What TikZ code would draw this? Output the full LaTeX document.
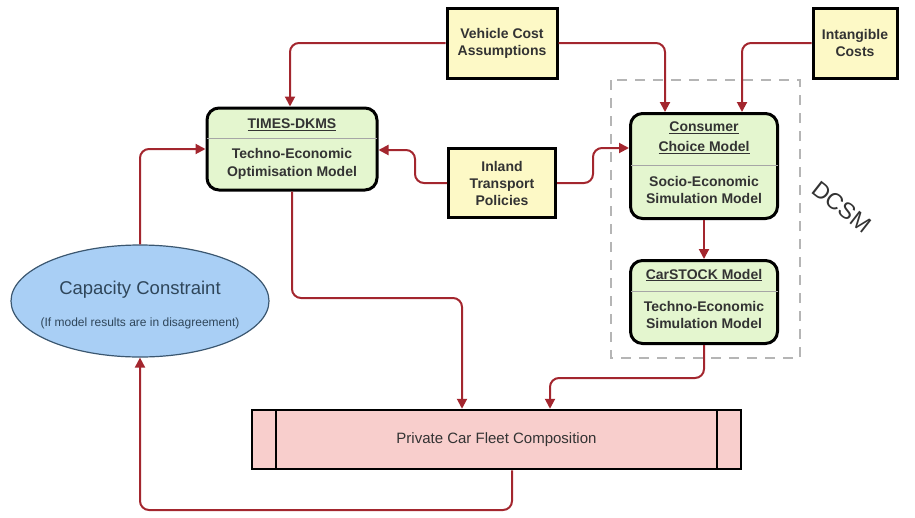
\documentclass[tikz,border=0pt]{standalone}
\usepackage{fontspec}
\setmainfont{Liberation Sans}
\usetikzlibrary{arrows.meta,shapes.geometric}
\definecolor{connred}{HTML}{A3262E}
\definecolor{gfill}{HTML}{E4F6CF}
\definecolor{yfill}{HTML}{FDF9C6}
\definecolor{pfill}{HTML}{F8CECC}
\definecolor{bfill}{HTML}{A9CFF5}
\definecolor{bdraw}{HTML}{3B5770}
\definecolor{txt}{HTML}{333333}
\definecolor{dashgray}{HTML}{B5B5B5}
\tikzset{
  model/.style={draw=black, line width=3pt, rounded corners=12pt, fill=gfill},
  input/.style={draw=black, line width=3pt, fill=yfill, align=center, text=txt,
                font=\fontsize{14}{17}\selectfont\bfseries},
  lbl/.style={align=center, text=txt, font=\fontsize{14}{18}\selectfont\bfseries},
  sep/.style={draw=gray!70, line width=0.6pt},
  conn/.style={draw=connred, line width=2pt, rounded corners=9pt,
               -{Triangle[length=10pt,width=10pt]}},
}
\begin{document}
\begin{tikzpicture}[x=1pt,y=-1pt]
\useasboundingbox (0,0) rectangle (915,517);

% DCSM dashed frame
\draw[draw=dashgray, line width=2pt, dash pattern=on 10pt off 8pt] (611,80) rectangle (800,358);
\node[rotate=-38, text=txt, font=\fontsize{23}{23}\selectfont] (dcsm) at (842,207) {DCSM};

% green model boxes
\node[model, minimum width=170pt, minimum height=82pt] (times) at (292,149) {};
\draw[sep] (207,138) -- (377,138);
\node[lbl] (timesT) at (292,125) {\underline{TIMES-DKMS}};
\node[lbl] (timesB) at (292,164) {Techno-Economic\\Optimisation Model};

\node[model, minimum width=147pt, minimum height=105pt] (cons) at (704,166) {};
\draw[sep] (631,165) -- (778,165);
\node[lbl, font=\fontsize{14}{20}\selectfont\bfseries] (consT) at (704,138) {\underline{Consumer}\\\underline{Choice Model}};
\node[lbl, font=\fontsize{14}{17}\selectfont\bfseries] (consB) at (704,190) {Socio-Economic\\Simulation Model};

\node[model, minimum width=147pt, minimum height=83pt] (car) at (704,302) {};
\draw[sep] (631,291) -- (778,291);
\node[lbl] (carT) at (704,275) {\underline{CarSTOCK Model}};
\node[lbl, font=\fontsize{14}{17}\selectfont\bfseries] (carB) at (704,315) {Techno-Economic\\Simulation Model};

% yellow inputs
\node[input, minimum width=110pt, minimum height=70pt] (vca) at (502,43) {Vehicle Cost\\Assumptions};
\node[input, minimum width=84pt, minimum height=70pt] (intang) at (855,43) {Intangible\\Costs};
\node[input, minimum width=107pt, minimum height=69pt] (inland) at (502,183) {Inland\\Transport\\Policies};

% fleet
\node[draw=black, line width=2.5pt, fill=pfill, minimum width=489pt, minimum height=59pt,
      text=txt, font=\fontsize{15}{15}\selectfont] (fleet) at (496.5,439.5) {Private Car Fleet Composition};
\draw[black, line width=2.5pt] (276,410) -- (276,469) (717,410) -- (717,469);

% capacity ellipse
\node[ellipse, draw=bdraw, line width=1.2pt, fill=bfill, minimum width=258pt, minimum height=112pt] (cap) at (140,301) {};
\node[text=bdraw!80!black, font=\fontsize{18.5}{18.5}\selectfont] (capT) at (140,290) {Capacity Constraint};
\node[text=bdraw!80!black, font=\fontsize{12}{12}\selectfont] (capS) at (140,323) {(If model results are in disagreement)};

% connectors
\coordinate (k1) at (462,298);
\coordinate (k2) at (550,378);
\coordinate (k3) at (140,510);
\coordinate (k4) at (415,150);
\coordinate (k5) at (593,148);
\coordinate (vt) at (290,108);
\coordinate (vc) at (665,108);
\coordinate (ic) at (742,108);

\draw[conn] (vca.west) -| (vt|-times.north);
\draw[conn] (vca.east) -| (vc|-cons.north);
\draw[conn] (intang.west) -| (ic|-cons.north);
\draw[conn] (inland.west) -| (k4) -- (k4-|times.east);
\draw[conn] (inland.east) -| (k5) -- (k5-|cons.west);
\draw[conn] (cons.south) -- (car.north);
\draw[conn] (times.south) |- (k1) -- (k1|-fleet.north);
\draw[conn] (car.south) |- (k2) -- (k2|-fleet.north);
\draw[conn] ([xshift=15.5pt]fleet.south) |- (k3) -- (cap.south);
\draw[conn] (cap.north) |- (times.west);
\end{tikzpicture}
\end{document}
